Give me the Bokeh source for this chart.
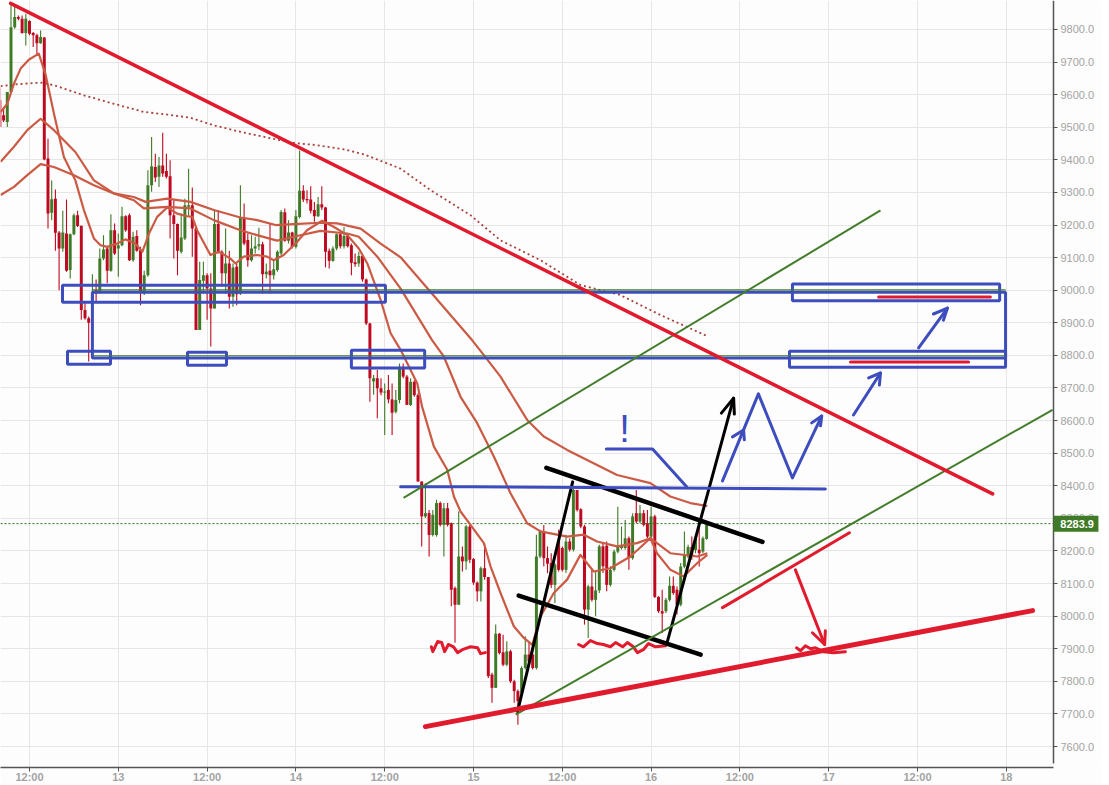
from bokeh.plotting import figure
from bokeh.models import FixedTicker, PrintfTickFormatter
from bokeh.embed import file_html
from bokeh.resources import INLINE
from bokeh.core.properties import value

# Time axis: half-hour candles counted from 12:00 on the day before "13"
x_tick_pos = [0, 24, 48, 72, 96, 120, 144, 168, 192, 216, 240, 264]
x_tick_lab = ["12:00", "13", "12:00", "14", "12:00", "15", "12:00", "16", "12:00", "17", "12:00", "18"]
y_ticks = [7600, 7700, 7800, 7900, 8000, 8100, 8200, 8300, 8400, 8500, 8600, 8700, 8800,
           8900, 9000, 9100, 9200, 9300, 9400, 9500, 9600, 9700, 9800, 9900]
last_price = 8283.9
axis_pos = 276.757

candle_first = -8
body_top = [9583,9537,9608,9807,9838,9838,9833,9833,9826,9789,9782,9777,9775,9404,9279,9281,9177,9177,9174,9172,
 9230,9230,9198,8939,8914,8985,9000,9097,9125,9128,9184,9184,9138,9227,9227,9230,9164,9166,9123,9046,
 9322,9380,9378,9383,9383,9366,9350,9230,9203,9162,9261,9261,9261,9189,9031,9046,9046,9005,9203,9203,
 9118,9082,9082,9070,9072,9223,9223,9154,9128,9135,9141,9141,9057,9060,9064,9118,9240,9239,9177,9177,
 9227,9305,9305,9280,9278,9246,9264,9264,9254,9121,9128,9172,9172,9166,9166,9138,9086,9105,9105,9033,
 8898,8730,8730,8699,8689,8694,8665,8663,8765,8765,8735,8719,8719,8678,8413,8316,8316,8311,8347,8347,
 8331,8331,8285,8086,8183,8183,8275,8275,8175,8103,8147,8147,8120,7821,7946,7946,7889,7892,7892,7800,
 7770,7841,7882,7882,7882,8183,8260,8260,8178,8163,8158,8234,8209,8229,8229,8387,8387,8328,8275,8091,
 8091,8079,8214,8214,8216,8142,8198,8214,8216,8239,8239,8306,8316,8316,8316,8285,8306,8306,8059,8015,
 8050,8093,8093,8081,8152,8188,8212,8212,8239,8204,8239,8280]
body_bottom = [9501,9521,9516,9608,9807,9833,9789,9789,9787,9782,9758,9758,9401,9235,9238,9176,9128,9128,9060,9062,
 9172,9197,8939,8914,8900,8970,8990,8995,9097,9060,9060,9113,9128,9138,9184,9092,9092,9121,8995,8990,
 9046,9322,9346,9348,9358,9348,9230,9203,9121,9118,9159,9256,9189,8878,8878,9029,9005,8944,8944,9118,
 9052,9052,8980,8980,8988,8990,9143,9092,9092,9128,9135,9049,9049,9046,9046,9062,9113,9152,9152,9133,
 9133,9225,9278,9276,9244,9227,9227,9254,9118,9090,9090,9128,9135,9135,9135,9084,9080,9082,9033,8898,
 8730,8720,8699,8686,8686,8665,8624,8627,8663,8735,8648,8648,8678,8413,8306,8306,8249,8249,8249,8280,
 8280,8280,8081,8035,8035,8168,8168,8173,8103,8076,8076,8120,7816,7780,7780,7887,7851,7851,7800,7770,
 7739,7764,7841,7861,7841,7841,8183,8178,8161,8096,8096,8142,8142,8142,8204,8204,8326,8275,8020,8020,
 8050,8050,8079,8153,8096,8096,8142,8198,8209,8209,8178,8178,8290,8290,8280,8244,8244,8059,8015,8008,
 8015,8050,8071,8035,8035,8152,8183,8183,8203,8193,8198,8237]
wick_high = [9623,9562,9608,9880,9870,9843,9843,9848,9828,9792,9787,9797,9777,9465,9337,9309,9182,9244,9278,9174,
 9235,9244,9198,8965,8919,9049,9033,9128,9169,9133,9233,9205,9174,9256,9230,9235,9179,9184,9133,9060,
 9368,9470,9419,9409,9483,9419,9399,9276,9205,9235,9281,9373,9315,9194,9087,9087,9052,9052,9246,9246,
 9123,9189,9121,9082,9082,9322,9266,9174,9169,9164,9192,9149,9082,9205,9092,9123,9246,9251,9215,9179,
 9246,9429,9322,9307,9319,9271,9286,9319,9256,9128,9135,9174,9174,9194,9174,9143,9113,9118,9113,9036,
 8900,8740,8755,8730,8714,8740,8714,8694,8775,8775,8740,8730,8724,8684,8413,8408,8326,8326,8357,8352,
 8347,8347,8287,8091,8321,8214,8280,8280,8178,8106,8152,8224,8120,7826,7974,7948,7943,7923,7897,7805,
 7775,7846,7938,7923,7918,8250,8265,8280,8214,8193,8163,8265,8214,8250,8239,8392,8387,8331,8280,8096,
 8142,8137,8219,8224,8229,8153,8204,8336,8275,8295,8244,8316,8387,8341,8326,8326,8336,8311,8061,8081,
 8056,8122,8122,8091,8163,8260,8219,8244,8244,8290,8244,8284]
wick_low = [9501,9516,9501,9608,9802,9828,9787,9751,9782,9746,9720,9756,9399,9189,9215,9121,9000,9118,9057,9036,
 9169,9194,8909,8909,8781,8806,8965,8990,9092,9021,9057,9108,9041,9135,9179,9090,9087,9118,8954,8985,
 9041,9302,9332,9317,9348,9343,9159,9097,9046,9113,9154,9225,9103,8878,8878,8990,8909,8827,8944,9113,
 9011,8990,8944,8949,8954,8985,9138,9072,9087,9113,9123,8990,9036,8990,9033,9057,9108,9149,9143,9128,
 9128,9220,9271,9266,9235,9210,9225,9246,9070,9067,9087,9123,9128,9128,9131,9046,9072,9072,9026,8893,
 8658,8679,8607,8678,8556,8653,8556,8622,8653,8730,8648,8645,8673,8413,8214,8301,8183,8244,8244,8275,
 8183,8275,8030,7918,8035,8137,8142,8163,8096,8045,8045,8112,7810,7734,7780,7882,7846,7846,7795,7734,
 7667,7759,7836,7856,7836,7836,8178,8153,8132,8086,8040,8137,8137,8132,8198,8198,8321,8270,7974,7933,
 8045,8000,8071,8132,8076,8091,8137,8193,8204,8204,8142,8173,8285,8285,8275,8239,8239,8056,8010,7948,
 8010,8045,8066,8005,8030,8147,8178,8173,8193,8152,8193,8234]
candle_is_up = [0,0,1,1,1,0,0,1,0,0,0,1,0,0,1,0,0,1,0,1,
 1,0,0,0,0,1,0,1,1,0,1,0,1,1,0,0,1,0,0,1,
 1,1,0,1,0,0,0,0,0,1,1,1,0,0,1,1,0,0,1,0,
 0,1,0,1,0,1,0,0,1,1,1,0,1,0,1,1,1,0,1,0,
 1,1,0,0,0,0,1,0,0,0,1,1,0,1,0,0,0,1,0,0,
 0,1,0,0,1,0,0,1,1,0,0,1,0,0,0,1,0,1,1,0,
 1,0,0,0,1,0,1,0,0,0,1,0,0,0,1,0,0,1,0,0,
 0,1,1,0,0,1,1,0,0,0,1,0,0,1,0,1,0,0,0,1,
 0,1,1,0,0,1,1,1,1,1,0,1,0,1,0,0,1,0,0,0,
 1,1,0,0,1,1,1,0,1,0,1,1]

ma_fast_x = [-7.8,-6,-4.2,-2.4,-0.2,2.5,4.3,6.6,9.3,12.4,14.7,17.4,19.2,21,23.7,25.9,28.6,30.5,32.3,34.5,37.2,39.9,42.6,44,45.3,48.9,51.2,54.3,55.7,57.9,61.5,64.2,66,68.7,72.3,75,79.1,82.3,85.9,89,91.3,94.9,97.6,100.3,104.8,106.1,109.3,112.9,114.7,116.5,119.2,122.8,124.6,127.3,130.9,133.6,135.9,138.1,141.7,145.3,148.9,152.5,157,162.4,167.8,169.6,173.2,176.8,180.5,183.2]
ma_fast_y = [9547,9572,9634,9680,9707,9726,9664,9542,9409,9337,9246,9159,9138,9133,9143,9156,9143,9118,9174,9225,9254,9235,9227,9225,9184,9108,9118,9097,9082,9103,9108,9103,9092,9108,9148,9184,9213,9194,9169,9128,9082,8970,8868,8817,8714,8643,8520,8449,8367,8321,8280,8224,8153,8071,7969,7933,7912,7999,8071,8112,8188,8137,8147,8183,8239,8193,8142,8122,8163,8188]
ma_mid_x = [-7.8,-4.2,-0.6,3,6.6,12,17.4,22.8,28.2,30.9,37.2,43.5,49.8,57,61.5,66.9,71.4,78.6,85.9,89,94,100.3,108.8,112,116.5,121,125.5,130,134.5,138.1,145.3,149.8,153.4,158.8,164.2,167.8,173.2,180.5,183.2]
ma_mid_y = [9292,9317,9353,9387,9378,9353,9322,9297,9276,9251,9256,9251,9215,9184,9169,9152,9164,9182,9174,9164,9103,9005,8847,8796,8673,8592,8490,8377,8285,8260,8244,8250,8229,8214,8224,8239,8193,8183,8193]
ma_slow_x = [-7.8,-4.2,-0.6,3,6.6,12.4,17.4,22.8,28.2,31.4,37.2,43.5,49.8,57,61.5,66.5,71.4,78.6,83.2,89.5,94.9,100.3,119.6,122.8,127.3,134.5,139,145.3,153.4,158.8,167.8,173.2,178.6,183.2]
ma_slow_y = [9394,9440,9491,9526,9491,9424,9337,9297,9286,9271,9281,9271,9246,9223,9215,9200,9203,9207,9205,9189,9143,9101,8847,8801,8735,8602,8551,8510,8464,8433,8408,8367,8347,8338]
ma_long_x = [-7.8,-3.3,3,6.6,14.7,22.8,30.9,37.2,43.5,49.8,57,66.9,71.4,77.7,85,90.4,100.3,108.4,119.2,127.3,138.1,148.9,159.7,170.5,183.2]
ma_long_y = [9626,9632,9637,9629,9598,9572,9547,9539,9529,9506,9486,9462,9452,9445,9432,9417,9373,9307,9230,9153,9092,9016,8985,8924,8859]

# Hand-drawn annotations, in candle position / price
red_thick_x = [[-5.1, 260.3], [107.0, 271.1]]
red_thick_y = [[9880, 8375], [7661, 8017]]
red_thick_w = [3.5, 5]
green_x = [[101.1, 230.0], [131.4, 276.5]]
green_y = [[8363, 9245], [7698, 8633]]
level_x = [[17, 263.8], [17, 263.8]]
level_y = [[9001, 9001], [8799, 8799]]
zone_left = [8.92, 10.27, 42.7, 87.0, 206.2, 205.4, 17.0]
zone_right = [96.2, 21.89, 53.24, 106.8, 262.2, 263.8, 263.8]
zone_top = [9015, 8813, 8810, 8816, 9019, 8813, 8994]
zone_bottom = [8963, 8773, 8770, 8761, 8968, 8764, 8792]
blue_x = [[100.3, 120, 195, 215.1], [155.9, 168.4, 177.6], [187.3, 197.0, 206.2, 214.1],
          [190, 193.0, 193.2], [211.4, 214.1, 213.8], [222.7, 230.0], [226.8, 230.0, 229.7],
          [240.3, 248.1], [244.3, 248.1, 247]]
blue_y = [[8397, 8397, 8392, 8390], [8513, 8513, 8397], [8415, 8682, 8424, 8614],
          [8550, 8571, 8541], [8593, 8614, 8584], [8617, 8746], [8731, 8746, 8709],
          [8823, 8945], [8927, 8945, 8908]]
red_x = [[229.5, 259.7], [221.9, 253.8], [187.3, 221.6], [207, 214.9], [211.6, 214.9, 215.1]]
red_y = [[8979, 8979], [8780, 8780], [8026, 8256], [8142, 7913], [7949, 7913, 7955]]
squiggle_x = [[108.6,109,110.3,111.4,112.2,113.2,114.6,115.7,117,119.2,121.1,121.9,123.2],
              [148.4,149.7,151.6,153.5,155.1,157,158.4,160.3,161.6,163.2,164.3,165.9,167.3,169.2,171.9],
              [207.3,208.4,209.7,211.1,212.4,214.6,217.3,220.5]]
squiggle_y = [[7906,7891,7922,7919,7891,7913,7906,7888,7897,7906,7903,7885,7888],
              [7913,7906,7925,7916,7913,7906,7919,7906,7919,7906,7888,7897,7916,7906,7909],
              [7903,7894,7909,7900,7903,7891,7888,7891]]
black_thick_x = [[139.7, 198.1], [132.2, 181.4]]
black_thick_y = [[8455, 8228], [8063, 7882]]
black_x = [[131.9, 146.8], [172.4, 190.3], [187, 190.3, 190.5]]
black_y = [[7707, 8412], [7922, 8669], [8623, 8669, 8620]]
mark_x = [160.8]
mark_y = [8575]
mark_text = ["!"]
# price tag beside the axis
tag_left, tag_right, tag_bottom, tag_top = [axis_pos], [288.9], [8258.7], [8307.8]
tag_text_x = [278.6]

RED, GREEN = "#bd0a20", "#3f7a27"
MA_COL = "#cb5a44"
LINE_RED, LINE_GREEN, BLUE = "#e01b2d", "#437d2c", "#3d4dbd"
PAPER = "#fdfdfd"

p = figure(width=1101, height=785, output_backend="svg", toolbar_location=None,
           x_range=(-7.838, 289.73), y_range=(7535.6, 9888.9), y_axis_location="right",
           min_border=0, min_border_left=0, min_border_top=0, min_border_right=0, min_border_bottom=17,
           background_fill_color=PAPER, border_fill_color=PAPER, outline_line_color=None)

xa, ya = p.xaxis[0], p.yaxis[0]
xa.ticker = FixedTicker(ticks=x_tick_pos)
xa.major_label_overrides = dict(zip(x_tick_pos, x_tick_lab))
xa.bounds = (-7.838, axis_pos)
ya.ticker = FixedTicker(ticks=y_ticks)
ya.formatter = PrintfTickFormatter(format="%.1f")
ya.bounds = (7548, 9888.9)
ya.fixed_location = axis_pos
for a in (xa, ya):
    a.axis_line_color = "#555555"
    a.axis_line_width = 1.5
    a.major_tick_line_color = "#555555"
    a.major_tick_in = 0
    a.major_tick_out = 4
    a.minor_tick_line_color = None
    a.major_label_text_color = "#a3a3a3"
    a.major_label_text_font = "Liberation Sans"
    a.major_label_text_font_size = "11px"
xa.major_label_standoff = -1
ya.major_label_standoff = 3
xa.major_label_text_font_style = "bold"
p.xgrid.grid_line_color = "#e6e6e6"
p.ygrid.grid_line_color = "#e6e6e6"

# keeps the horizontal grid from running on past the price axis
p.quad([axis_pos], [289.73], [9888.9], [7535.6], fill_color=PAPER, line_color=None)

xs = [candle_first + k for k in range(len(body_top))]
cols = [GREEN if u else RED for u in candle_is_up]
p.segment(xs, wick_low, xs, wick_high, line_color=cols, line_width=1.1)
p.vbar(xs, 0.8, body_bottom, body_top, fill_color=cols, line_color=None)

p.line([-7.838, axis_pos], [last_price, last_price], line_color="#2e6e18", line_dash="2 2", line_width=1)

for mx, my in ((ma_fast_x, ma_fast_y), (ma_mid_x, ma_mid_y), (ma_slow_x, ma_slow_y)):
    p.line(mx, my, line_color=MA_COL, line_width=2.2, line_join="round")
p.line(ma_long_x, ma_long_y, line_color="#a8423a", line_width=1.8, line_dash="2 3")

p.multi_line(squiggle_x, squiggle_y, line_color=LINE_RED, line_width=3, line_cap="round", line_join="round")
p.multi_line(black_x, black_y, line_color="#000000", line_width=3, line_cap="round")
p.multi_line(black_thick_x, black_thick_y, line_color="#000000", line_width=4.5, line_cap="round")
p.quad(zone_left, zone_right, zone_top, zone_bottom, fill_alpha=0, line_color=BLUE, line_width=3)
p.multi_line(blue_x, blue_y, line_color=BLUE, line_width=3, line_cap="round", line_join="round")
p.multi_line(level_x, level_y, line_color=LINE_GREEN, line_width=1.2)
p.multi_line(green_x, green_y, line_color=LINE_GREEN, line_width=2)
p.multi_line(red_x, red_y, line_color=LINE_RED, line_width=3, line_cap="round", line_join="round")
p.multi_line(red_thick_x, red_thick_y, line_color=LINE_RED, line_width=red_thick_w, line_cap="round")
p.text(mark_x, mark_y, text=mark_text, text_color=BLUE, text_font=value("Liberation Sans"),
       text_font_size="38px", text_align="center", text_baseline="alphabetic")

p.quad(tag_left, tag_right, tag_top, tag_bottom, fill_color="#3f7a27", line_color=None, level="overlay")
p.text(tag_text_x, [last_price], text=[f"{last_price:.1f}"], text_color="#ffffff",
       text_font=value("Liberation Sans"), text_font_size="11px", text_font_style="bold",
       text_align="left", text_baseline="middle", level="overlay")

open("out.html", "w").write(file_html(p, INLINE))
